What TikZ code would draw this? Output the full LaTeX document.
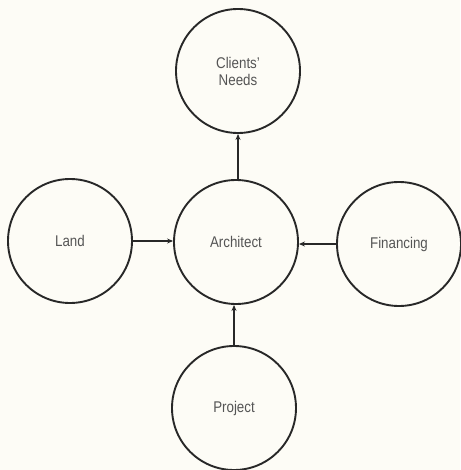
\documentclass[tikz,border=0pt]{standalone}
\usepackage{fontspec}
\setmainfont[FakeStretch=0.86]{Liberation Sans}
\usetikzlibrary{arrows.meta}
\definecolor{paper}{RGB}{253,252,246}
\definecolor{ink}{RGB}{40,40,40}
\definecolor{txt}{RGB}{85,85,85}
\tikzset{
  bubble/.style={circle,draw=ink,line width=1.9pt,minimum size=124pt,inner sep=0pt,
    text=txt,font=\fontsize{15.5}{17}\selectfont,align=center},
  arr/.style={draw=ink,line width=1.5pt,-{Stealth[length=6pt,width=5pt]}}
}
\begin{document}
\begin{tikzpicture}[x=1pt,y=-1pt]
\fill[paper] (0,0) rectangle (460,470);
\useasboundingbox (0,0) rectangle (460,470);
\node[bubble] (clients) at (238,71) {Clients’\\Needs};
\node[bubble] (arch) at (236,242) {Architect};
\node[bubble] (land) at (70,241) {Land};
\node[bubble] (fin) at (399,244) {Financing};
\node[bubble] (proj) at (234,408) {Project};
\draw[arr] (arch.north -| clients.south) -- (clients.south);
\draw[arr] (land.east) -- (land.east -| arch.west);
\draw[arr] (fin.west) -- (fin.west -| arch.east);
\draw[arr] (proj.north) -- (proj.north |- arch.south);
\end{tikzpicture}
\end{document}
